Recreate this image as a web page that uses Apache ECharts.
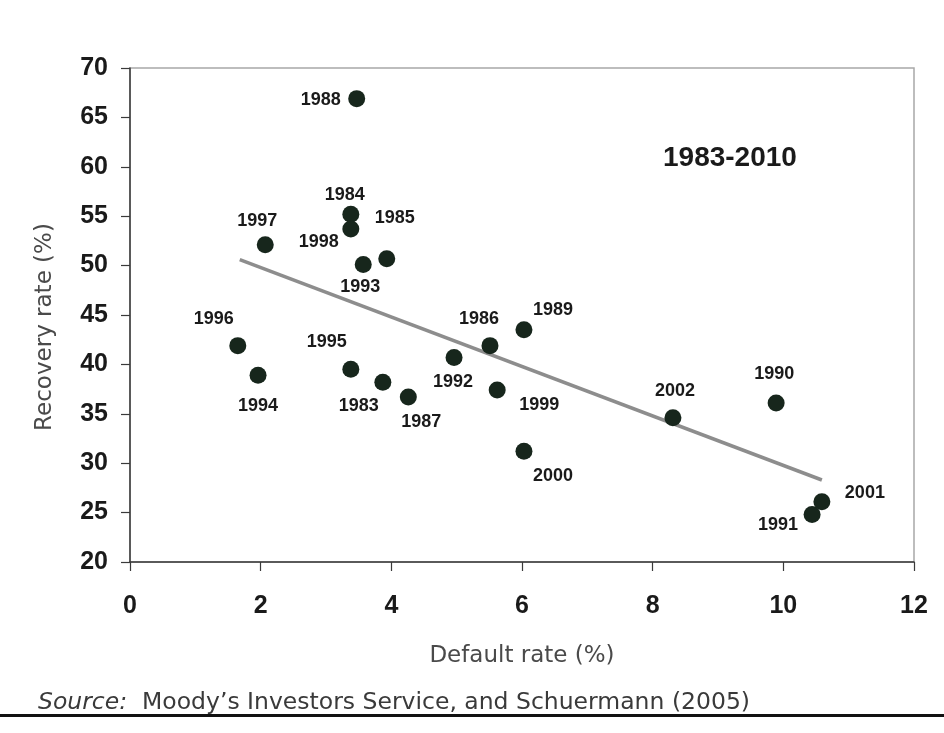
<!DOCTYPE html>
<html>
<head>
<meta charset="utf-8">
<script src="https://cdn.jsdelivr.net/npm/echarts@6/dist/echarts.min.js"></script>
<style>
  html, body { margin: 0; padding: 0; background: #ffffff; }
  #chart { width: 944px; height: 733px; }
</style>
</head>
<body>
<div id="chart"></div>
<script>
// Moody's default vs. recovery rates by year, 1983-2010
const years = [1983, 1984, 1985, 1986, 1987, 1988, 1989, 1990, 1991, 1992, 1993,
               1994, 1995, 1996, 1997, 1998, 1999, 2000, 2001, 2002];
const defaultRate = [3.87, 3.38, 3.93, 5.51, 4.26, 3.47, 6.03, 9.89, 10.44, 4.96, 3.57,
                     1.96, 3.38, 1.65, 2.07, 3.38, 5.62, 6.03, 10.59, 8.31];
const recoveryRate = [38.2, 55.2, 50.7, 41.9, 36.7, 66.9, 43.5, 36.1, 24.8, 40.7, 50.1,
                      38.9, 39.5, 41.9, 52.1, 53.7, 37.4, 31.2, 26.1, 34.6];

// Fitted linear trend, drawn between its two end points
const trendX = [1.68, 10.59];
const trendY = [50.6, 28.3];

const xTicks = [0, 2, 4, 6, 8, 10, 12];
const yTicks = [20, 25, 30, 35, 40, 45, 50, 55, 60, 65, 70];

// Where each year label's centre sits relative to its dot's centre (pixels)
const labelShift = {
  1983: [-24, 24], 1984: [-6, -19], 1985: [8, -41], 1986: [-11, -27], 1987: [13, 25],
  1988: [-36, 1], 1989: [29, -20], 1990: [-2, -29], 1991: [-34, 10], 1992: [-1, 25],
  1993: [-3, 22], 1994: [0, 31], 1995: [-24, -27], 1996: [-24, -27], 1997: [-8, -24],
  1998: [-32, 13], 1999: [42, 15], 2000: [29, 25], 2001: [43, -9], 2002: [2, -27]
};

const DOT = 17;

const points = years.map((yr, i) => ({
  value: [defaultRate[i], recoveryRate[i], yr],
  label: {
    position: [DOT / 2 + labelShift[yr][0], DOT / 2 + labelShift[yr][1]]
  }
}));

const chart = echarts.init(document.getElementById('chart'), null, { renderer: 'canvas' });

const tickFont = {
  fontFamily: 'Liberation Sans, Arial, sans-serif',
  fontWeight: 'bold',
  fontSize: 25,
  color: '#1a1a1a'
};

const nameFont = { fontFamily: 'DejaVu Sans, sans-serif', fontSize: 23, color: '#4a4a4a' };

chart.setOption({
  backgroundColor: '#ffffff',
  animation: false,
  grid: {
    left: 130, top: 68, right: 30, bottom: 171,
    show: true, borderColor: '#a8a8a8', borderWidth: 1.5, backgroundColor: 'transparent'
  },
  xAxis: {
    type: 'value',
    min: xTicks[0], max: xTicks[xTicks.length - 1], interval: 2,
    splitLine: { show: false },
    axisLine: { show: true, onZero: false, lineStyle: { color: '#3a3a3a', width: 1.5 } },
    axisTick: { show: true, inside: false, length: 9, lineStyle: { color: '#3a3a3a', width: 1.2 } },
    axisLabel: Object.assign({ margin: 32 }, tickFont),
    name: 'Default rate (%)',
    nameLocation: 'middle',
    nameGap: 83,
    nameTextStyle: nameFont
  },
  yAxis: {
    type: 'value',
    min: yTicks[0], max: yTicks[yTicks.length - 1], interval: 5,
    splitLine: { show: false },
    axisLine: { show: true, onZero: false, lineStyle: { color: '#3a3a3a', width: 1.5 } },
    axisTick: { show: true, inside: false, length: 9, lineStyle: { color: '#3a3a3a', width: 1.2 } },
    axisLabel: Object.assign({ margin: 22 }, tickFont),
    name: 'Recovery rate (%)',
    nameLocation: 'middle',
    nameRotate: 90,
    nameGap: 73,
    nameTextStyle: Object.assign({ padding: [0, 24, 0, 0] }, nameFont)
  },
  series: [
    {
      type: 'line',
      data: trendX.map((x, i) => [x, trendY[i]]),
      showSymbol: false,
      symbol: 'none',
      lineStyle: { color: '#8d8d8d', width: 3.5 },
      z: 2,
      silent: true
    },
    {
      type: 'scatter',
      data: points,
      symbol: 'circle',
      symbolSize: DOT,
      itemStyle: { color: '#17261c', opacity: 1 },
      z: 3,
      label: {
        show: true,
        align: 'center',
        verticalAlign: 'middle',
        formatter: p => String(p.value[2]),
        fontFamily: 'Liberation Sans, Arial, sans-serif',
        fontWeight: 'bold',
        fontSize: 18,
        color: '#1a1a1a',
        opacity: 1,
        textBorderWidth: 0
      },
      labelLayout: { hideOverlap: false }
    }
  ],
  graphic: [
    {
      type: 'text',
      left: 663, top: 144,
      style: {
        text: '1983-2010',
        font: 'bold 28px "Liberation Sans", Arial, sans-serif',
        fill: '#1a1a1a'
      }
    },
    {
      type: 'text',
      left: 38, top: 691,
      style: {
        text: '{i|Source:}  Moody\u2019s Investors Service, and Schuermann (2005)',
        font: '23.5px "DejaVu Sans", sans-serif',
        fill: '#3a3a3a',
        rich: {
          i: { fontStyle: 'italic', fontFamily: 'DejaVu Sans, sans-serif', fontSize: 23.5, fill: '#3a3a3a' }
        }
      }
    },
    {
      type: 'rect',
      left: 0, top: 714,
      shape: { width: 944, height: 3 },
      style: { fill: '#111111' }
    }
  ]
});
</script>
</body>
</html>
